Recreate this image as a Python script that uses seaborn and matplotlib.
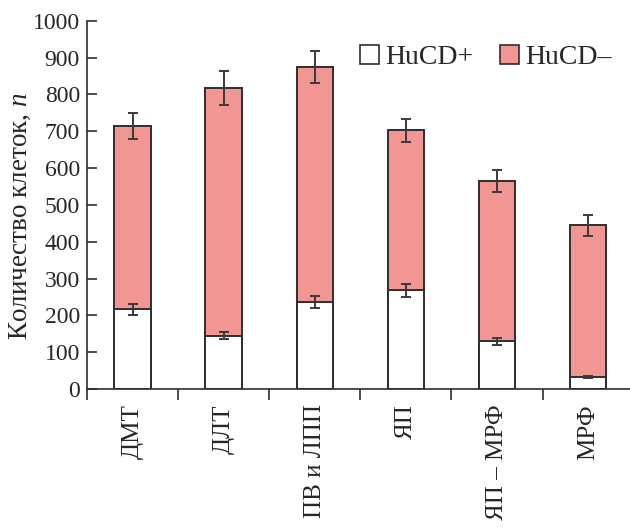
import numpy as np
import pandas as pd
import matplotlib
matplotlib.use('Agg')
import matplotlib.pyplot as plt
import seaborn as sns
from matplotlib.patches import Patch

# data
categories = ['ДМТ', 'ДЛТ', 'ПВ и ЛПП', 'ЯП', 'ЯП – МРФ', 'МРФ']
hucd_pos = [217, 145, 237, 268, 129, 33]
hucd_pos_err = [15, 10, 16, 18, 9, 3]
hucd_neg = [498, 672, 637, 435, 436, 411]
total_err = [35, 47, 44, 31, 31, 29]

PINK = '#F19693'
EDGE = '#2e2e2e'

sns.set_style('ticks')
plt.rcParams['font.family'] = ['Liberation Serif', 'DejaVu Serif']
plt.rcParams['mathtext.fontset'] = 'custom'
plt.rcParams['mathtext.it'] = 'Liberation Serif:italic'

df = pd.DataFrame({
    'group': categories,
    'pos': hucd_pos,
    'total': np.array(hucd_pos) + np.array(hucd_neg),
})

fig = plt.figure(figsize=(6.3, 5.31), dpi=100)
ax = fig.add_axes([0.138, 0.2674, 0.868, 0.6936])

# stacked bars: full height in pink, white HuCD+ part drawn over it
sns.barplot(data=df, x='group', y='total', color=PINK, width=0.4,
            edgecolor=EDGE, linewidth=1.4, saturation=1, ax=ax)
sns.barplot(data=df, x='group', y='pos', color='white', width=0.4,
            edgecolor=EDGE, linewidth=1.4, saturation=1, ax=ax)

x = np.arange(len(categories))
ax.errorbar(x, df['total'], yerr=total_err, fmt='none', ecolor='#3a3a3a',
            elinewidth=1.4, capsize=3.8, capthick=1.4)
ax.errorbar(x, df['pos'], yerr=hucd_pos_err, fmt='none', ecolor='#3a3a3a',
            elinewidth=1.4, capsize=3.8, capthick=1.4)

ax.set_xlim(-0.5, 5.5)
ax.set_ylim(0, 1000)
ax.set_yticks(np.arange(0, 1001, 100))
ax.tick_params(axis='y', direction='in', length=7, width=1.2,
               labelsize=17, pad=5, color=EDGE)
ax.set_xticks(x)
ax.set_xticklabels(categories, rotation=90, fontsize=18)
ax.tick_params(axis='x', which='major', length=0, pad=11)
ax.set_xticks(np.arange(-0.5, 6, 1), minor=True)
ax.tick_params(axis='x', which='minor', direction='out', length=8,
               width=1.2, color=EDGE)
ax.set_xlabel('')
ax.set_ylabel(r'Количество клеток, $\mathit{n}$', fontsize=19.5)
ax.yaxis.label.set_va('center')
ax.yaxis.set_label_coords(-0.122, 0.47)

sns.despine(ax=ax)
for s in ['left', 'bottom']:
    ax.spines[s].set_linewidth(1.2)
    ax.spines[s].set_color(EDGE)

handles = [Patch(facecolor='white', edgecolor=EDGE, linewidth=1.2),
           Patch(facecolor=PINK, edgecolor=EDGE, linewidth=1.2)]
ax.legend(handles, ['HuCD+', 'HuCD–'], ncol=2, frameon=False, fontsize=20,
          loc='upper left', bbox_to_anchor=(0.50, 0.935), borderpad=0,
          borderaxespad=0, handlelength=0.68, handleheight=0.68,
          handletextpad=0.22, columnspacing=0.95)

fig.savefig('out.png', dpi=100)
